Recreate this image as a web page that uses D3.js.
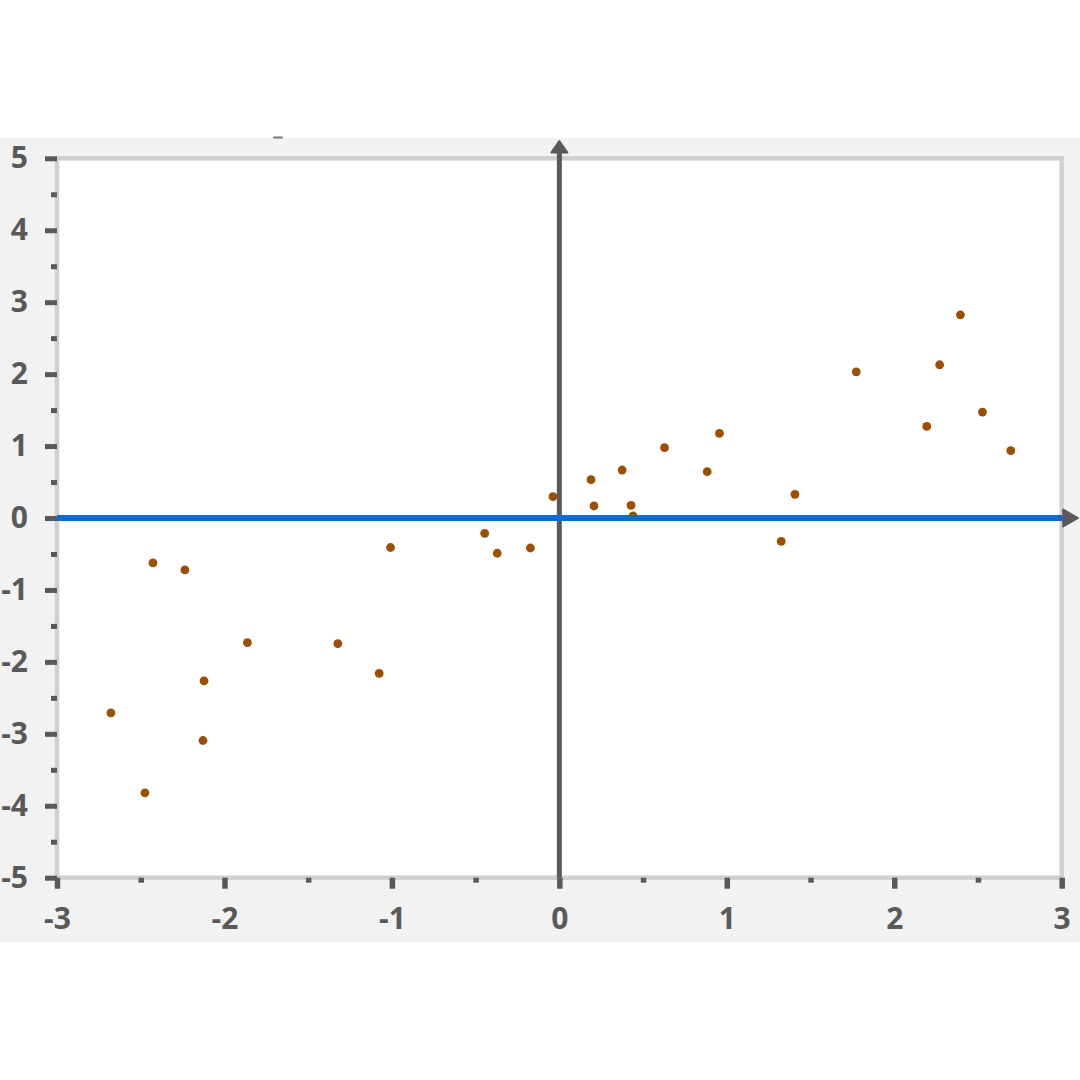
<!DOCTYPE html>
<html><head><meta charset="utf-8">
<script src="https://cdn.jsdelivr.net/npm/d3@7"></script>
<style>html,body{margin:0;padding:0;background:#fff;} svg{display:block;}</style>
</head><body><svg id="chart" width="1080" height="1080"></svg>
<script>
const xValues = [-2.678,-2.475,-2.427,-2.236,-2.122,-2.128,-1.863,-1.323,-1.076,-1.008,-0.446,-0.371,-0.173,-0.038,0.189,0.207,0.375,0.428,0.440,0.628,0.883,0.956,1.325,1.407,1.773,2.194,2.271,2.395,2.527,2.696];
const yValues = [-2.71,-3.82,-0.625,-0.722,-2.264,-3.093,-1.732,-1.746,-2.16,-0.41,-0.213,-0.49,-0.417,0.296,0.532,0.167,0.667,0.176,0.030,0.977,0.644,1.176,-0.324,0.329,2.032,1.273,2.13,2.824,1.472,0.935];
const xTickValues = [-3,-2,-1,0,1,2,3];
const xTickLabels = ["-3","-2","-1","0","1","2","3"];
const yTickValues = [5,4,3,2,1,0,-1,-2,-3,-4,-5];
const yTickLabels = ["5","4","3","2","1","0","-1","-2","-3","-4","-5"];
const xMinorTicks = [-2.5,-1.5,-0.5,0.5,1.5,2.5];
const yMinorTicks = [4.5,3.5,2.5,1.5,0.5,-0.5,-1.5,-2.5,-3.5,-4.5];

const svg = d3.select("#chart");
const L = 57, R = 1061.7, T = 158.3, B = 877.7;
const x = d3.scaleLinear().domain([-3,3]).range([L,R]);
const y = d3.scaleLinear().domain([-5,5]).range([B,T]);
const axisColor = "#595959";
const font = "'Open Sans', 'DejaVu Sans', sans-serif";

// gray panel
svg.append("rect").attr("x",0).attr("y",138).attr("width",1080).attr("height",804).attr("fill","#f2f2f2");
// clipped title remnant
svg.append("rect").attr("x",273).attr("y",136.5).attr("width",10).attr("height",2).attr("rx",1).attr("fill","#777");
// plot area
svg.append("rect").attr("x",L).attr("y",T).attr("width",R-L).attr("height",B-T)
  .attr("fill","#fff").attr("stroke","#d0d0d0").attr("stroke-width",4.5);

// points
svg.append("g").selectAll("circle").data(xValues.map((v,i)=>[v,yValues[i]])).join("circle")
  .attr("cx",d=>x(d[0])).attr("cy",d=>y(d[1])).attr("r",4.4).attr("fill","#9c4e02");

// vertical zero axis
svg.append("line").attr("x1",x(0)).attr("x2",x(0)).attr("y1",y(-5)).attr("y2",150)
  .attr("stroke",axisColor).attr("stroke-width",5);
svg.append("path").attr("d",`M${x(0)},141 L${x(0)+8},152.5 L${x(0)-8},152.5 Z`)
  .attr("fill",axisColor).attr("stroke",axisColor).attr("stroke-width",2).attr("stroke-linejoin","round");

// horizontal zero line (blue) + arrow
svg.append("line").attr("x1",L).attr("x2",R+1).attr("y1",y(0)).attr("y2",y(0))
  .attr("stroke","#0a6bd6").attr("stroke-width",6);
svg.append("path").attr("d",`M${R+1.5},${y(0)-8.5} L1078,${y(0)} L${R+1.5},${y(0)+8.5} Z`)
  .attr("fill",axisColor).attr("stroke",axisColor).attr("stroke-width",2).attr("stroke-linejoin","round");

// Y axis major
const yAxis = svg.append("g").attr("transform",`translate(${L},0)`)
  .call(d3.axisLeft(y).tickValues(yTickValues).tickSize(12).tickPadding(17)
    .tickFormat((d,i)=>yTickLabels[i]));
// Y axis minor
const yMinor = svg.append("g").attr("transform",`translate(${L},0)`)
  .call(d3.axisLeft(y).tickValues(yMinorTicks).tickSize(6).tickFormat(""));
// X axis major
const xAxis = svg.append("g").attr("transform",`translate(0,${B})`)
  .call(d3.axisBottom(x).tickValues(xTickValues).tickSize(11).tickPadding(19)
    .tickFormat((d,i)=>xTickLabels[i]));
const xMinor = svg.append("g").attr("transform",`translate(0,${B})`)
  .call(d3.axisBottom(x).tickValues(xMinorTicks).tickSize(5).tickFormat(""));

[yAxis,yMinor,xAxis,xMinor].forEach(g=>{
  g.select(".domain").remove();
  g.selectAll(".tick line").attr("stroke",axisColor).attr("stroke-width",5);
  g.selectAll(".tick text").attr("fill",axisColor).attr("font-family",font)
    .attr("font-weight","bold").attr("font-size",30);
});
xAxis.selectAll(".tick line").attr("stroke-width",5.5);
xMinor.selectAll(".tick line").attr("stroke-width",5.5);
</script></body></html>
